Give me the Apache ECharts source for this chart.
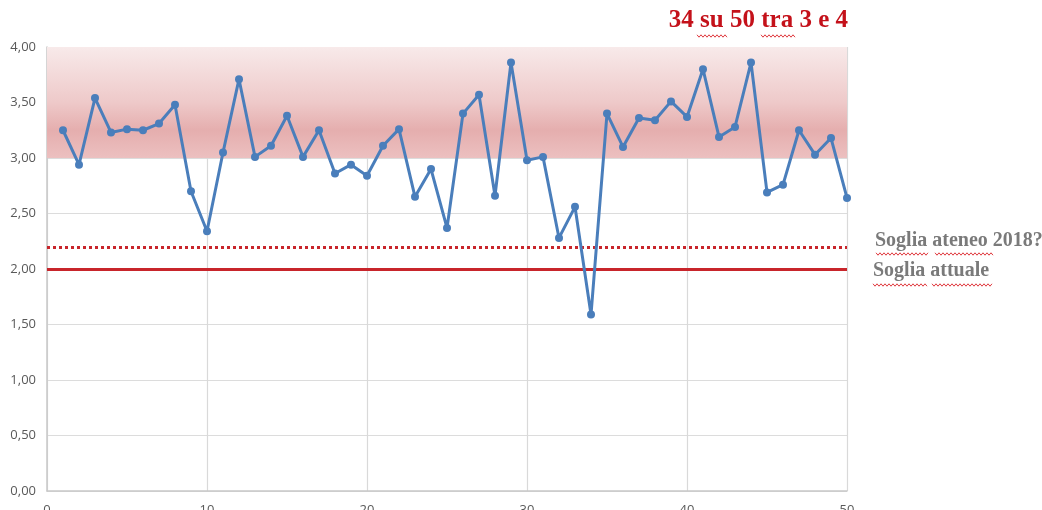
<!DOCTYPE html>
<html>
<head>
<meta charset="utf-8">
<title>Soglia</title>
<script src="https://cdn.jsdelivr.net/npm/echarts@6/dist/echarts.min.js"></script>
<style>
    html, body { margin: 0; padding: 0; background: #fff; }
    #main { width: 1042px; height: 510px; }
</style>
</head>
<body>
<div id="main"></div>
<script>
var xValues = [1, 2, 3, 4, 5, 6, 7, 8, 9, 10,
    11, 12, 13, 14, 15, 16, 17, 18, 19, 20,
    21, 22, 23, 24, 25, 26, 27, 28, 29, 30,
    31, 32, 33, 34, 35, 36, 37, 38, 39, 40,
    41, 42, 43, 44, 45, 46, 47, 48, 49, 50];
var scores = [3.25, 2.94, 3.54, 3.23, 3.26, 3.25, 3.31, 3.48, 2.70, 2.34,
    3.05, 3.71, 3.01, 3.11, 3.38, 3.01, 3.25, 2.86, 2.94, 2.84,
    3.11, 3.26, 2.65, 2.90, 2.37, 3.40, 3.57, 2.66, 3.86, 2.98,
    3.01, 2.28, 2.56, 1.59, 3.40, 3.10, 3.36, 3.34, 3.51, 3.37,
    3.80, 3.19, 3.28, 3.86, 2.69, 2.76, 3.25, 3.03, 3.18, 2.64];
var yTicks = [0, 0.5, 1, 1.5, 2, 2.5, 3, 3.5, 4];
var xTicks = [0, 10, 20, 30, 40, 50];
var bandRange = [3, 4];
var sogliaAttuale = 2.0;
var sogliaAteneo = 2.2;

var points = [];
for (var i = 0; i < xValues.length; i++) {
    points.push([xValues[i], scores[i]]);
}

// wavy spell-check underline, as in the original screenshot
function squiggle(x1, x2, y) {
    var pts = [];
    var up = true;
    for (var x = x1; x <= x2; x += 2) {
        pts.push([x, up ? y - 1.2 : y + 1.2]);
        up = !up;
    }
    return {
        type: 'polyline',
        silent: true,
        shape: { points: pts },
        style: { stroke: '#e0393e', lineWidth: 1, fill: null }
    };
}

var myChart = echarts.init(document.getElementById('main'));

var option = {
    animation: false,
    backgroundColor: '#ffffff',
    grid: {
        left: 47,
        right: 195,
        top: 47,
        bottom: 19,
        containLabel: false,
        outerBoundsMode: 'none'
    },
    xAxis: {
        type: 'value',
        min: xTicks[0],
        max: xTicks[xTicks.length - 1],
        interval: 10,
        axisLine: { show: true, lineStyle: { color: '#c8c8c8', width: 1.5 } },
        axisTick: { show: false },
        axisLabel: { color: '#595959', fontSize: 13, margin: 13, fontFamily: 'Open Sans' },
        splitLine: { show: true, lineStyle: { color: '#d9d9d9', width: 1.2 } }
    },
    yAxis: {
        type: 'value',
        min: yTicks[0],
        max: yTicks[yTicks.length - 1],
        interval: 0.5,
        axisLine: { show: true, lineStyle: { color: '#c8c8c8', width: 1.5 } },
        axisTick: { show: false },
        axisLabel: {
            color: '#595959',
            fontSize: 13,
            margin: 11,
            fontFamily: 'Open Sans',
            formatter: function (v) { return v.toFixed(2).replace('.', ','); }
        },
        splitLine: { show: true, lineStyle: { color: '#dcdcdc', width: 1.2 } }
    },
    series: [
        {
            type: 'line',
            data: points,
            symbol: 'circle',
            symbolSize: 8,
            lineStyle: { color: '#4a7ebb', width: 3 },
            itemStyle: { color: '#4a7ebb' },
            z: 5,
            markArea: {
                silent: true,
                itemStyle: {
                    color: {
                        type: 'linear', x: 0, y: 0, x2: 0, y2: 1,
                        colorStops: [
                            { offset: 0, color: '#f8eaea' },
                            { offset: 0.5, color: '#eec9c9' },
                            { offset: 0.75, color: '#e5aeae' },
                            { offset: 1, color: '#ecc0c0' }
                        ]
                    }
                },
                data: [[
                    { xAxis: xTicks[0], yAxis: bandRange[1] },
                    { xAxis: xTicks[xTicks.length - 1], yAxis: bandRange[0] }
                ]]
            },
            markLine: {
                silent: true,
                symbol: 'none',
                label: { show: false },
                data: [
                    { yAxis: sogliaAteneo, lineStyle: { color: '#c8252b', width: 3, type: [3, 3] } },
                    { yAxis: sogliaAttuale, lineStyle: { color: '#c8252b', width: 3, type: 'solid' } }
                ]
            }
        }
    ],
    graphic: [
        {
            type: 'text',
            right: 194,
            top: 8,
            style: {
                text: '34 su 50 tra 3 e 4',
                fill: '#c4111a',
                font: 'bold 25px "Liberation Serif", serif'
            }
        },
        {
            type: 'text',
            left: 875,
            top: 231,
            style: {
                text: 'Soglia ateneo 2018?',
                fill: '#7a7a7a',
                font: 'bold 20px "Liberation Serif", serif'
            }
        },
        {
            type: 'text',
            left: 873,
            top: 261,
            style: {
                text: 'Soglia attuale',
                fill: '#7a7a7a',
                font: 'bold 20px "Liberation Serif", serif'
            }
        },
        squiggle(697, 727, 36),
        squiggle(761, 796, 36),
        squiggle(876, 929, 254),
        squiggle(935, 993, 254),
        squiggle(873, 927, 285),
        squiggle(932, 992, 285)
    ]
};

myChart.setOption(option);
</script>
</body>
</html>
